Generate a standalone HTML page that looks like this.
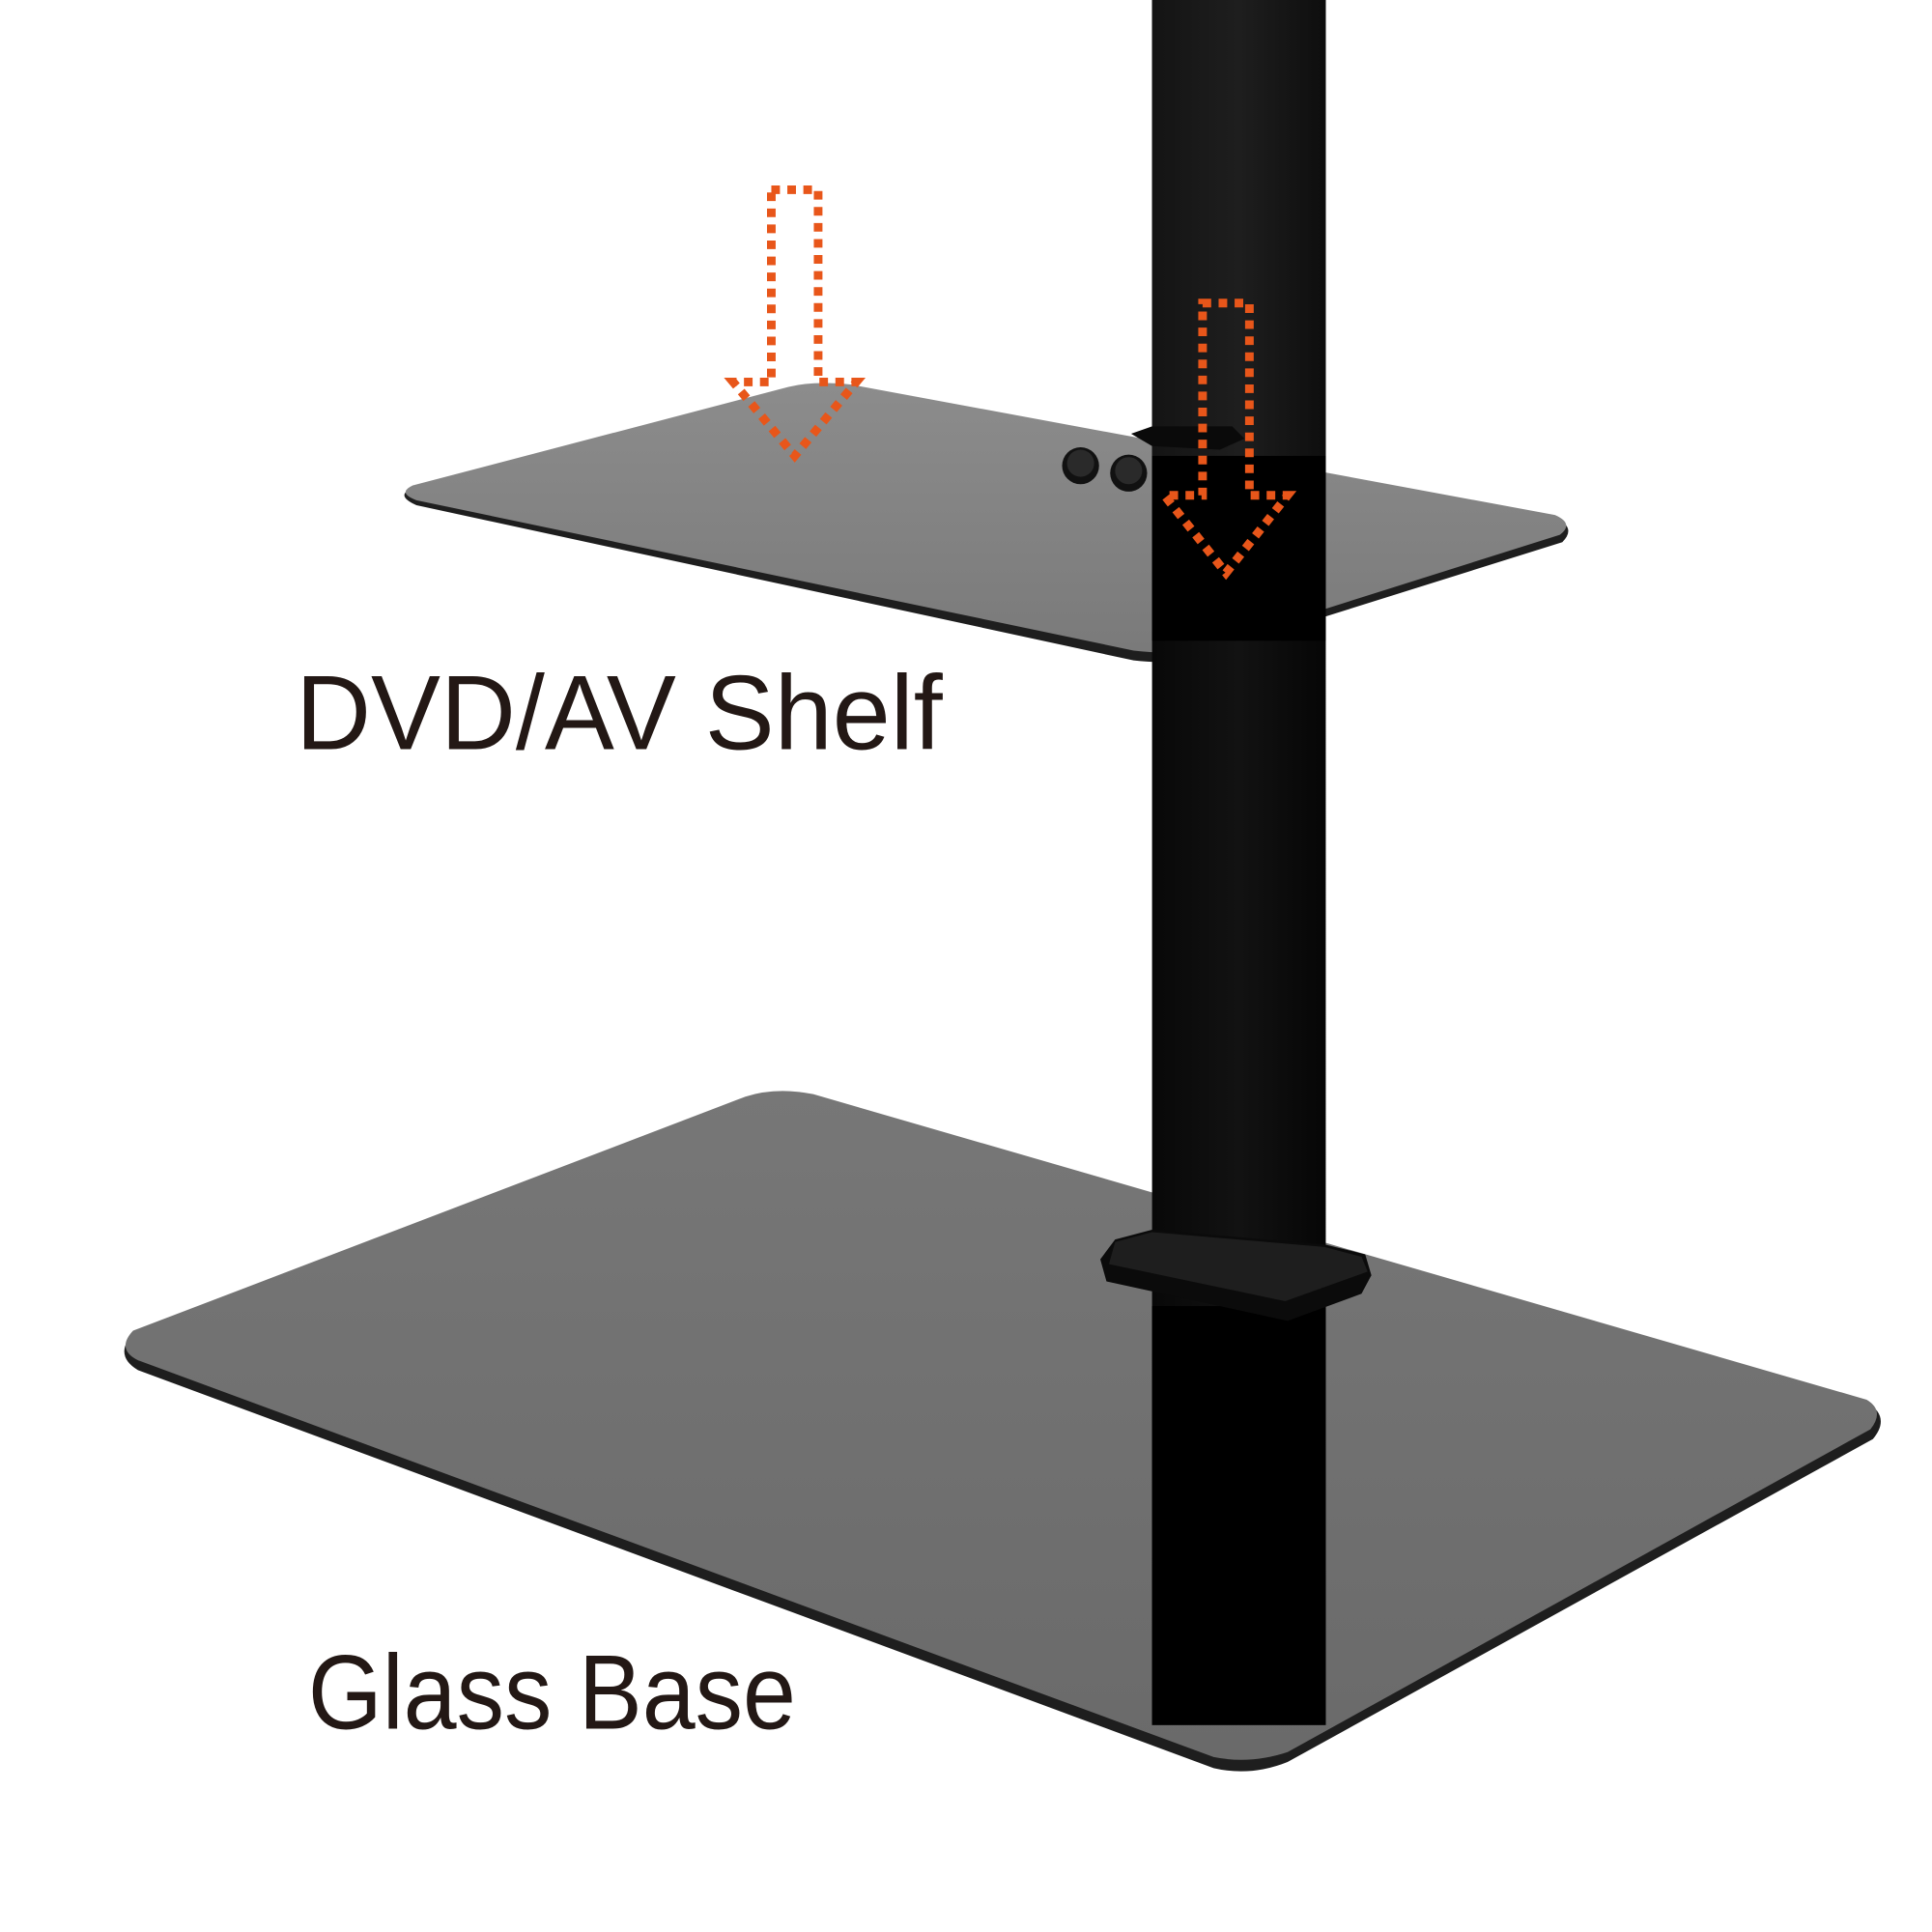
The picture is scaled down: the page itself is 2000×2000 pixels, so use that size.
<!DOCTYPE html>
<html><head><style>
html,body{margin:0;padding:0;background:#fff;}
svg{display:block;}
</style></head><body>
<svg width="2000" height="2000" viewBox="0 0 1568 1568" xmlns="http://www.w3.org/2000/svg">
<defs>
<linearGradient id="shelf" x1="0" y1="0" x2="0" y2="1">
<stop offset="0" stop-color="#8c8c8c"/><stop offset="1" stop-color="#7a7a7a"/>
</linearGradient>
<linearGradient id="base" x1="0" y1="0" x2="0" y2="1">
<stop offset="0" stop-color="#777"/><stop offset="1" stop-color="#6a6a6a"/>
</linearGradient>
<linearGradient id="pole" x1="0" y1="0" x2="1" y2="0">
<stop offset="0" stop-color="#141414"/><stop offset="0.5" stop-color="#1e1e1e"/><stop offset="1" stop-color="#0e0e0e"/>
</linearGradient>
<linearGradient id="pole2" x1="0" y1="0" x2="1" y2="0">
<stop offset="0" stop-color="#080808"/><stop offset="0.5" stop-color="#121212"/><stop offset="1" stop-color="#060606"/>
</linearGradient>
</defs>
<path d="M108,1082 L605,892 Q630,884 660,890 L1515,1138 Q1535,1150 1520,1168 L1045,1430 Q1015,1442 985,1435 L112,1112 Q92,1100 108,1082 Z" fill="#1e1e1e"/>
<path d="M108,1080 L605,890 Q630,882 660,888 L1515,1136 Q1530,1145 1518,1160 L1045,1422 Q1015,1432 985,1426 L112,1104 Q94,1095 108,1080 Z" fill="url(#base)"/>
<path d="M335,396 L640,316 Q660,311 690,314 L1262,420 Q1280,428 1268,440 L975,532 Q955,540 920,536 L338,410 Q320,402 335,396 Z" fill="#1e1e1e"/>
<path d="M335,394 L640,314 Q660,309 690,312 L1262,418 Q1278,425 1266,434 L975,526 Q955,532 920,528 L338,406 Q322,400 335,394 Z" fill="url(#shelf)"/>
<rect x="935" y="0" width="141" height="1400" fill="url(#pole2)"/>
<rect x="935" y="0" width="141" height="372" fill="url(#pole)"/>
<rect x="935" y="370" width="141" height="150" fill="#000"/>
<rect x="935" y="1060" width="141" height="340" fill="#000"/>
<path d="M918,352 L935,346 L1000,346 L1010,356 L990,365 L935,362 Z" fill="#0a0a0a"/>
<circle cx="877" cy="378" r="15" fill="#111"/><circle cx="877" cy="376" r="11" fill="#2a2a2a"/>
<circle cx="916" cy="384" r="15" fill="#111"/><circle cx="916" cy="382" r="11" fill="#2a2a2a"/>
<path d="M893,1022 L905,1006 L935,998 L1075,1010 L1108,1018 L1113,1035 L1105,1050 L1045,1072 L898,1040 Z" fill="#0b0b0b"/>
<path d="M905,1008 L935,1000 L1075,1012 L1105,1020 L1110,1032 L1043,1056 L900,1026 Z" fill="#1e1e1e"/>
<g fill="none" stroke="#e8561a" stroke-width="7" stroke-dasharray="7,6">
<path d="M626,154 L664,154 L664,310 L695,310 L645,370 L595,310 L626,310 Z"/>
<path d="M976,246 L1014,246 L1014,402 L1045,402 L995,465 L945,402 L976,402 Z"/>
</g>
<g font-family="'Liberation Sans', sans-serif" fill="#231815">
<text x="240" y="608" font-size="86" textLength="525" lengthAdjust="spacingAndGlyphs">DVD/AV Shelf</text>
<text x="250" y="1403" font-size="86" textLength="396" lengthAdjust="spacingAndGlyphs">Glass Base</text>
</g>
</svg>
</body></html>
